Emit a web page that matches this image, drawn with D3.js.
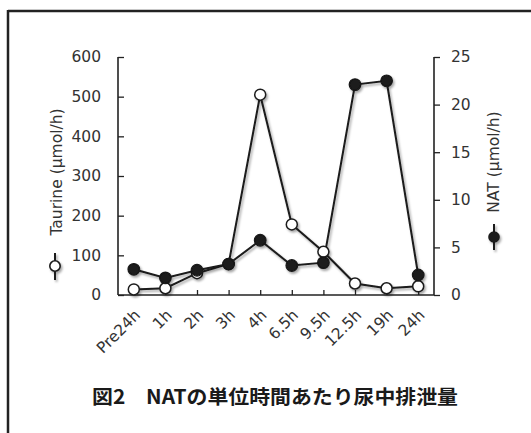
<!DOCTYPE html>
<html><head><meta charset="utf-8">
<script src="https://cdn.jsdelivr.net/npm/d3@7"></script>
<style>body{margin:0;background:#fff}svg{display:block}</style>
</head><body>
<script>
const categories = ["Pre24h","1h","2h","3h","4h","6.5h","9.5h","12.5h","19h","24h"];
const taurine = [14, 17, 55, 78, 505, 178, 109, 29, 17, 22];
const nat = [2.7, 1.8, 2.6, 3.25, 5.75, 3.1, 3.4, 22.1, 22.5, 2.1];
const leftTicks = [0,100,200,300,400,500,600];
const rightTicks = [0,5,10,15,20,25];
const leftLabel = "Taurine (µmol/h)";
const rightLabel = "NAT (µmol/h)";
const title = "図2　NATの単位時間あたり尿中排泄量";

const W=531,H=433;
const svg=d3.select("body").append("svg").attr("width",W).attr("height",H);
const defs=svg.append("defs");
const f=defs.append("filter").attr("id","sh").attr("x","-50%").attr("y","-50%").attr("width","200%").attr("height","200%");
f.append("feDropShadow").attr("dx",1.5).attr("dy",2).attr("stdDeviation",1.3).attr("flood-color","#000").attr("flood-opacity",0.35);

// frame
svg.append("line").attr("x1",8).attr("x2",W).attr("y1",11).attr("y2",11).attr("stroke","#222").attr("stroke-width",2.5);
svg.append("line").attr("x1",8).attr("x2",8).attr("y1",10).attr("y2",H).attr("stroke","#222").attr("stroke-width",2.5);

const x0=118,x1=434,yTop=57,yBot=295;
const x=d3.scalePoint().domain(categories).range([x0,x1]).padding(0.5);
const yL=d3.scaleLinear().domain([0,600]).range([yBot,yTop]);
const yR=d3.scaleLinear().domain([0,25]).range([yBot,yTop]);
const font='"DejaVu Sans", sans-serif';
const tc="#333";

// left axis
const gL=svg.append("g").attr("transform",`translate(${x0},0)`)
  .call(d3.axisLeft(yL).tickValues(leftTicks).tickSize(-6).tickPadding(17).tickFormat(d3.format("d")));
// right axis
const gR=svg.append("g").attr("transform",`translate(${x1},0)`)
  .call(d3.axisRight(yR).tickValues(rightTicks).tickSize(6).tickPadding(11).tickFormat(d3.format("d")));
// bottom axis
const gB=svg.append("g").attr("transform",`translate(0,${yBot})`)
  .call(d3.axisBottom(x).tickSize(-5).tickPadding(4));
for(const g of [gL,gR,gB]){
  g.select(".domain").attr("stroke","#222").attr("stroke-width",1.6);
  g.selectAll(".tick line").attr("stroke","#222").attr("stroke-width",1.3);
  g.selectAll("text").attr("fill",tc).style("font-family",font).style("font-size","15.5px");
}
gL.select(".domain").attr("d",`M0,${yTop}H0V${yBot}H0`);
gR.select(".domain").attr("d",`M0,${yTop}H0V${yBot}H0`);
gB.select(".domain").attr("d",`M${x0},0H${x1}`);
gB.selectAll(".tick text").attr("text-anchor","end").attr("dy",null).attr("y",null)
  .attr("transform","translate(7,21) rotate(-45)");

// lines
const lineT=d3.line().x((d,i)=>x(categories[i])).y(d=>yL(d));
const lineN=d3.line().x((d,i)=>x(categories[i])).y(d=>yR(d));
const plot=svg.append("g").attr("filter","url(#sh)");
plot.append("path").datum(taurine).attr("d",lineT).attr("fill","none").attr("stroke","#1a1a1a").attr("stroke-width",2);
plot.append("path").datum(nat).attr("d",lineN).attr("fill","none").attr("stroke","#1a1a1a").attr("stroke-width",2);
plot.selectAll(".mt").data(taurine).enter().append("circle")
  .attr("cx",(d,i)=>x(categories[i])).attr("cy",d=>yL(d)).attr("r",5.5)
  .attr("fill","#fff").attr("stroke","#1a1a1a").attr("stroke-width",1.5);
plot.selectAll(".mn").data(nat).enter().append("circle")
  .attr("cx",(d,i)=>x(categories[i])).attr("cy",d=>yR(d)).attr("r",5.8)
  .attr("fill","#1a1a1a").attr("stroke","#1a1a1a").attr("stroke-width",1.2);

// axis labels
svg.append("text").attr("transform","translate(61.5,172) rotate(-90)").attr("text-anchor","middle")
  .style("font-family",font).style("font-size","15.5px").attr("fill",tc).text(leftLabel);
svg.append("text").attr("transform","translate(499,162) rotate(-90)").attr("text-anchor","middle")
  .style("font-family",font).style("font-size","15.5px").attr("fill",tc).text(rightLabel);

// legend markers
const lg=svg.append("g").attr("filter","url(#sh)");
lg.append("line").attr("x1",55).attr("x2",55).attr("y1",253).attr("y2",280).attr("stroke","#1a1a1a").attr("stroke-width",2);
lg.append("circle").attr("cx",55).attr("cy",266).attr("r",5.2).attr("fill","#fff").attr("stroke","#1a1a1a").attr("stroke-width",1.6);
lg.append("line").attr("x1",494).attr("x2",494).attr("y1",224).attr("y2",250).attr("stroke","#1a1a1a").attr("stroke-width",2);
lg.append("circle").attr("cx",494).attr("cy",237).attr("r",5.8).attr("fill","#1a1a1a");

// title
svg.append("text").attr("x",92).attr("y",404).attr("textLength",366).attr("lengthAdjust","spacingAndGlyphs")
  .style("font-family",'"Noto Sans CJK JP", sans-serif').style("font-size","19.5px").style("font-weight","bold")
  .attr("fill","#1a1a1a").text(title);
</script>
</body></html>
